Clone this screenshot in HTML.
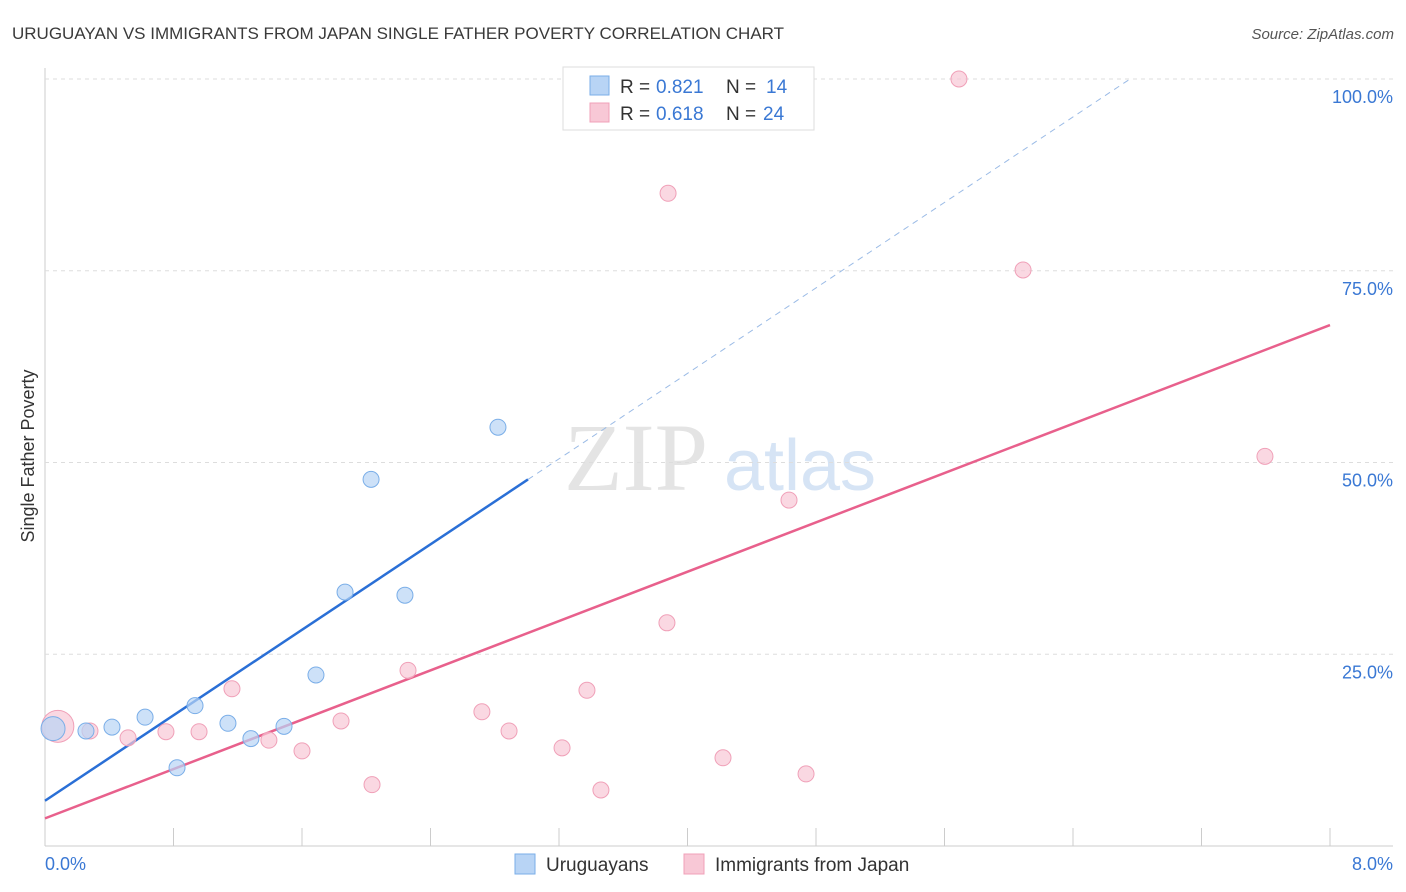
<!DOCTYPE html>
<html><head><meta charset="utf-8"><style>
body{margin:0;background:#fff;font-family:"Liberation Sans",sans-serif}
svg{display:block}
</style></head><body>
<svg id="chart" width="1406" height="892">
<text x="12" y="39" font-size="17" fill="#3a3a3a">URUGUAYAN VS IMMIGRANTS FROM JAPAN SINGLE FATHER POVERTY CORRELATION CHART</text>
<text x="1394" y="39" font-size="15" fill="#555" font-style="italic" text-anchor="end">Source: ZipAtlas.com</text>
<text x="636" y="490" font-size="96" fill="#e4e4e4" font-family="Liberation Serif,serif" text-anchor="middle">ZIP</text>
<text x="800" y="490" font-size="72" fill="#d6e4f5" text-anchor="middle">atlas</text>
<text transform="translate(34,456) rotate(-90)" font-size="18" fill="#333" text-anchor="middle">Single Father Poverty</text>
<g id="grid"></g><g id="lines"></g><g id="pts"></g>
<g>
<rect x="563" y="67" width="251" height="63" fill="#fff" stroke="#ddd"/>
<rect x="590" y="76" width="19" height="19" fill="#b8d4f5" stroke="#7aaee8"/>
<text x="620" y="93" font-size="19" fill="#333">R =</text>
<text x="656" y="93" font-size="19" fill="#3a78d4">0.821</text>
<text x="726" y="93" font-size="19" fill="#333">N =</text>
<text x="766" y="93" font-size="19" fill="#3a78d4">14</text>
<rect x="590" y="103" width="19" height="19" fill="#f8c8d6" stroke="#f0a0b8"/>
<text x="620" y="120" font-size="19" fill="#333">R =</text>
<text x="656" y="120" font-size="19" fill="#3a78d4">0.618</text>
<text x="726" y="120" font-size="19" fill="#333">N =</text>
<text x="763" y="120" font-size="19" fill="#3a78d4">24</text>
</g>
<g>
<rect x="515" y="854" width="20" height="20" fill="#b8d4f5" stroke="#7aaee8"/>
<text x="546" y="871" font-size="19" fill="#333">Uruguayans</text>
<rect x="684" y="854" width="20" height="20" fill="#f8c8d6" stroke="#f0a0b8"/>
<text x="715" y="871" font-size="19" fill="#333">Immigrants from Japan</text>
</g>
<text x="45" y="870" font-size="18" fill="#3a78d4">0.0%</text>
<text x="1393" y="870" font-size="18" fill="#3a78d4" text-anchor="end">8.0%</text>
</svg>
<script>
const blueX=[0.05,0.255,0.417,0.623,0.822,0.934,1.139,1.282,1.488,1.687,1.868,2.030,2.241,2.820];
const blueY=[15.3,15.0,15.5,16.8,10.2,18.3,16.0,14.0,15.6,22.3,33.1,47.8,32.7,54.6];
const pinkX=[0.08,0.28,0.517,0.753,0.959,1.164,1.394,1.6,1.843,2.036,2.26,2.72,2.889,3.219,3.374,3.461,3.872,3.879,4.221,4.632,4.738,5.69,6.089,7.595];
const pinkY=[15.6,15.0,14.1,14.9,14.9,20.5,13.8,12.4,16.3,8.0,22.9,17.5,15.0,12.8,20.3,7.3,29.1,85.1,11.5,45.1,9.4,100,75.1,50.8];
const blueTrend=[5.9,13.93];
const pinkTrend=[3.6,8.04];
const blueSolidEnd=3.007;
const yTicks=[25,50,75,100];
const yTickLabels=["25.0%","50.0%","75.0%","100.0%"];
const xTicks=[0,0.8,1.6,2.4,3.2,4.0,4.8,5.6,6.4,7.2,8.0];
const NS="http://www.w3.org/2000/svg";
const sx=v=>45+v/8*1285, sy=v=>846-v*7.67;
function mk(tag,attrs,parent){const e=document.createElementNS(NS,tag);for(const k in attrs)e.setAttribute(k,attrs[k]);document.getElementById(parent).appendChild(e);return e;}
let e=mk('line',{x1:45,y1:846,x2:1393,y2:846,stroke:'#ccc'},'grid');


e=mk('line',{x1:45,y1:68,x2:45,y2:846,stroke:'#ccc'},'grid');


yTicks.forEach((t,i)=>{
 let g=mk('line',{x1:45,y1:sy(t),x2:1393,y2:sy(t),stroke:'#ddd','stroke-dasharray':'4,4'},'grid');
 
 
 let l=mk('text',{x:1393,y:sy(t)+24,'font-size':18,fill:'#3a78d4','text-anchor':'end'},'grid');
 l.textContent=yTickLabels[i];
 
 
});
xTicks.forEach(t=>{
 let g=mk('line',{x1:sx(t),y1:828,x2:sx(t),y2:846,stroke:'#ccc'},'grid');
 
 
});
let bl=mk('line',{x1:sx(0),y1:sy(blueTrend[0]),x2:sx(blueSolidEnd),y2:sy(blueTrend[0]+blueTrend[1]*blueSolidEnd),stroke:'#2a6fd6','stroke-width':2.5},'lines');


const xe=(100-blueTrend[0])/blueTrend[1];
let bd=mk('line',{x1:sx(blueSolidEnd),y1:sy(blueTrend[0]+blueTrend[1]*blueSolidEnd),x2:sx(xe),y2:sy(100),stroke:'#9bbbe6','stroke-width':1,'stroke-dasharray':'6,5'},'lines');


let pl=mk('line',{x1:sx(0),y1:sy(pinkTrend[0]),x2:sx(8),y2:sy(pinkTrend[0]+pinkTrend[1]*8),stroke:'#e8608c','stroke-width':2.5},'lines');


pinkX.forEach((x,i)=>{
 let c=mk('circle',{cx:sx(x),cy:sy(pinkY[i]),r:i==0?16:8,fill:'#f8c8d6','fill-opacity':0.7,stroke:'#f0a0b8'},'pts');
 
 
});
blueX.forEach((x,i)=>{
 let c=mk('circle',{cx:sx(x),cy:sy(blueY[i]),r:i==0?12:8,fill:'#b8d4f5','fill-opacity':0.7,stroke:'#7aaee8'},'pts');
 
 
});
</script>
</body></html>
